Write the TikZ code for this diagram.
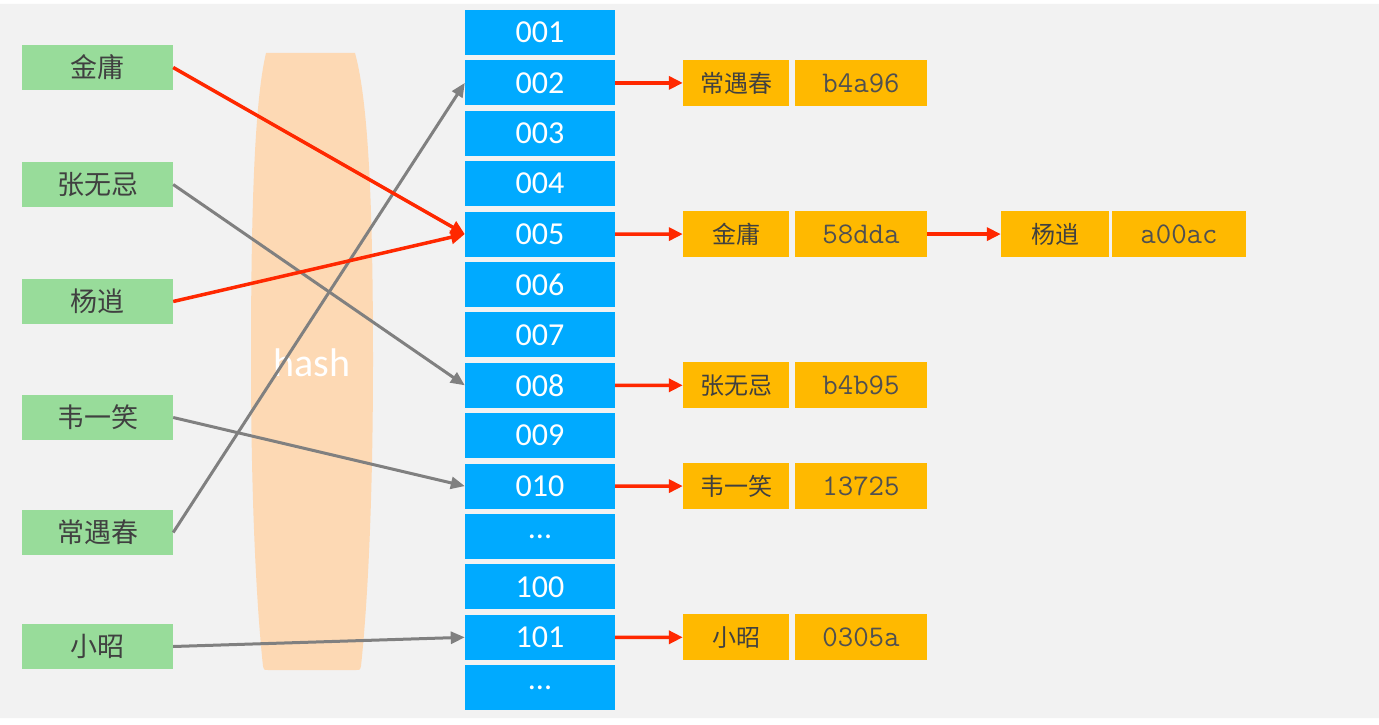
\documentclass[tikz,border=0pt]{standalone}
\usepackage{fontspec}
\setmainfont{Carlito}
\newfontfamily\cjk{Noto Sans CJK SC}
\usetikzlibrary{arrows.meta}
\definecolor{bg}{RGB}{242,242,242}
\definecolor{gbox}{RGB}{152,220,154}
\definecolor{bbox}{RGB}{0,170,255}
\definecolor{obox}{RGB}{255,185,0}
\definecolor{hashc}{RGB}{253,217,180}
\definecolor{redl}{RGB}{255,40,0}
\definecolor{grayl}{RGB}{128,128,128}
\definecolor{txt}{RGB}{64,64,64}
\definecolor{mtxt}{RGB}{80,80,80}
\newcommand\mydots{...}
\tikzset{
  gnode/.style={fill=gbox,minimum width=151pt,minimum height=45pt,inner sep=0pt,text=txt,font=\cjk\fontsize{27}{30}\selectfont},
  bnode/.style={fill=bbox,minimum width=150pt,minimum height=45pt,inner sep=0pt,text=white,font=\fontsize{32}{34}\selectfont},
  okey/.style={fill=obox,minimum height=46pt,inner sep=0pt,text=txt,font=\cjk\fontsize{24}{26}\selectfont},
  oval/.style={fill=obox,minimum height=46pt,inner sep=0pt,text=mtxt,font=\ttfamily\fontsize{30}{32}\selectfont},
  redarr/.style={draw=redl,line width=3.5pt,-{Triangle[length=14pt,width=13pt]}},
  grayarr/.style={draw=grayl,line width=3pt,-{Triangle[length=14pt,width=12pt]}},
}
\begin{document}
\begin{tikzpicture}[x=1pt,y=-1pt]
\useasboundingbox (0,0) rectangle (1379,725);
\fill[white] (0,0) rectangle (1379,725);
\fill[bg,rounded corners=8pt] (-10,4) rectangle (1389,718);
% hash shape
\fill[hashc] (266,53) -- (355,53) .. controls (368,100) and (373,200) .. (373,360)
  .. controls (373,520) and (366,620) .. (361,666) .. controls (360,670) .. (356,670)
  -- (268,670) .. controls (264,670) .. (263,666)
  .. controls (258,620) and (251,520) .. (251,360) .. controls (251,200) and (255,100) .. (266,53) -- cycle;
\node[text=white,font=\fontsize{40}{42}\selectfont] (hash) at (312,363) {hash};
% green nodes
\node[gnode] (g1) at (97.5,67.5) {金庸};
\node[gnode] (g2) at (97.5,184.5) {张无忌};
\node[gnode] (g3) at (97.5,301.5) {杨逍};
\node[gnode] (g4) at (97.5,417.5) {韦一笑};
\node[gnode] (g5) at (97.5,532.5) {常遇春};
\node[gnode] (g6) at (97.5,646.5) {小昭};
% blue column
\foreach \i/\t in {0/001,1/002,2/003,3/004,4/005,5/006,6/007,7/008,8/009,9/010,10/\mydots,11/100,12/101,13/\mydots}{
  \node[bnode] (b\i) at (540,32.5+50.4*\i) {\t};
}
% orange entries
\node[okey,minimum width=106pt] (k1) at (736,82.9) {常遇春};
\node[oval,minimum width=132pt] (v1) at (861,82.9) {b4a96};
\node[okey,minimum width=106pt] (k2) at (736,234.1) {金庸};
\node[oval,minimum width=132pt] (v2) at (861,234.1) {58dda};
\node[okey,minimum width=108pt] (k3) at (1055,234.1) {杨逍};
\node[oval,minimum width=134pt] (v3) at (1179,234.1) {a00ac};
\node[okey,minimum width=106pt] (k4) at (736,385.3) {张无忌};
\node[oval,minimum width=132pt] (v4) at (861,385.3) {b4b95};
\node[okey,minimum width=106pt] (k5) at (736,486.1) {韦一笑};
\node[oval,minimum width=132pt] (v5) at (861,486.1) {13725};
\node[okey,minimum width=106pt] (k6) at (736,637.3) {小昭};
\node[oval,minimum width=132pt] (v6) at (861,637.3) {0305a};
% red arrows to entries
\draw[redarr] (b1.east) -- (k1.west);
\draw[redarr] (b4.east) -- (k2.west);
\draw[redarr] (v2.east) -- (k3.west);
\draw[redarr] (b7.east) -- (k4.west);
\draw[redarr] (b9.east) -- (k5.west);
\draw[redarr] (b12.east) -- (k6.west);
% hashing connectors
\draw[grayarr] (g2.east) -- (b7.west);
\draw[grayarr] (g4.east) -- (b9.west);
\draw[grayarr] (g5.east) -- (b1.west);
\draw[grayarr] (g6.east) -- (b12.west);
\draw[redarr] (g1.east) -- (b4.west);
\draw[redarr] (g3.east) -- (b4.west);
\end{tikzpicture}
\end{document}
